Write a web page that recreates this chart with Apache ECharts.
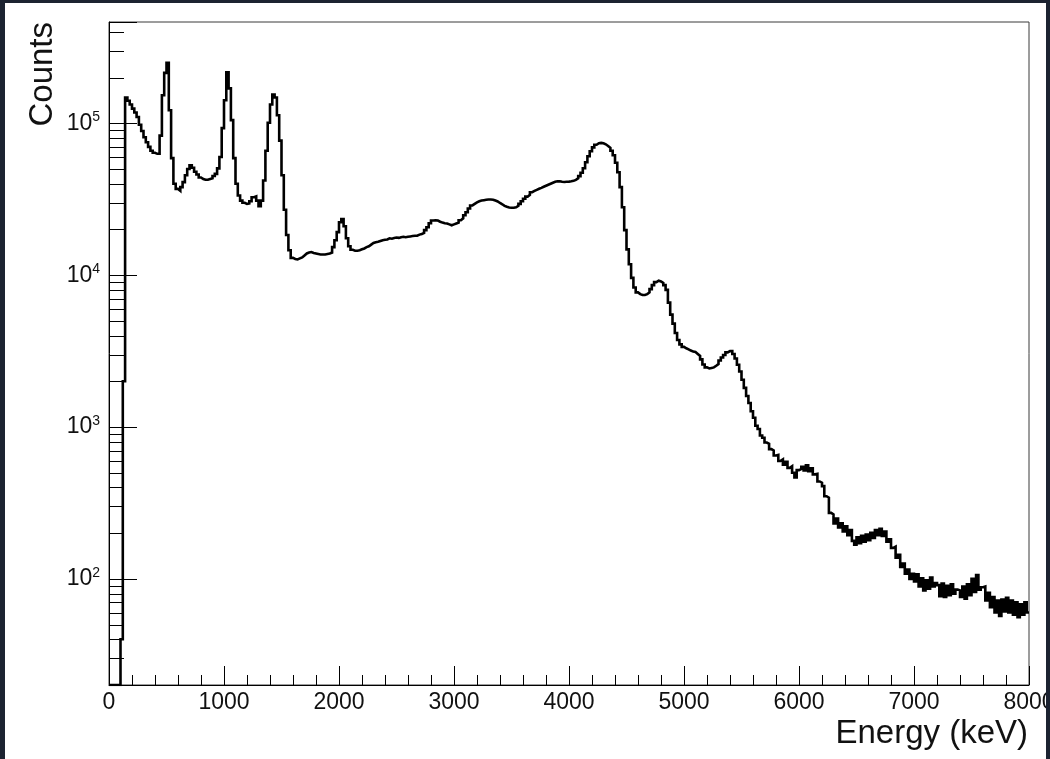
<!DOCTYPE html>
<html>
<head>
<meta charset="utf-8">
<script src="https://cdn.jsdelivr.net/npm/echarts@6/dist/echarts.min.js"></script>
<style>
  html, body { margin: 0; padding: 0; width: 1050px; height: 759px; overflow: hidden; background: #1c2331; }
  #pad { position: absolute; left: 5px; top: 3px; width: 1041px; height: 756px; background: #ffffff; overflow: hidden; }
  #chart { width: 1041px; height: 756px; }
</style>
</head>
<body>
<div id="pad"><div id="chart"></div></div>
<script>
// Gamma-ray energy spectrum, 20 keV bins from 0 to 8000 keV.
const BIN_WIDTH = 20;
const E_MIN = 0;
const E_MAX = 8000;
const E_TICK_STEP = 1000;

// counts per bin (bin i covers [i*20, i*20+20) keV)
const counts = [
  0, 0, 0, 0, 0, 40, 2000, 148000, 141000, 133000,
  125000, 118000, 110000, 98000, 89000, 81000, 75000, 70000, 66000, 64000,
  63000, 63000, 83000, 153000, 215000, 250000, 122000, 59000, 40000, 37000,
  36000, 38000, 41000, 45500, 50000, 53000, 51000, 48000, 46000, 44000,
  43000, 42500, 42500, 43000, 43500, 45000, 46500, 50500, 60000, 93000,
  142000, 217000, 170000, 105000, 59000, 40000, 33500, 31000, 30000, 29500,
  29700, 30700, 32600, 33000, 31000, 28500, 31000, 42000, 66000, 101000,
  133000, 155000, 148000, 113000, 77000, 45500, 27000, 18400, 14600, 13000,
  12800, 12700, 12900, 13100, 13500, 13900, 14100, 14200, 14000, 13900,
  13800, 13700, 13700, 13700, 13800, 13900, 14100, 15300, 17000, 19200,
  22300, 23400, 21000, 17500, 15500, 14700, 14500, 14500, 14600, 14800,
  15000, 15300, 15500, 15900, 16300, 16500, 16600, 16800, 17000, 17100,
  17200, 17500, 17400, 17600, 17700, 17600, 17800, 17900, 17800, 17900,
  18000, 18100, 18200, 18200, 18500, 18700, 19000, 19800, 20700, 22000,
  22900, 23000, 22900, 22500, 22200, 22000, 21900, 21600, 21300, 21600,
  21900, 22200, 23000, 23700, 24800, 26000, 27500, 28800, 29500, 30200,
  30700, 31000, 31200, 31400, 31500, 31500, 31400, 31000, 30600, 29900,
  29300, 28600, 28200, 27900, 27800, 27800, 28000, 28600, 29500, 30700,
  31900, 32900, 33800, 35200, 35900, 36500, 37100, 37600, 38200, 38800,
  39400, 40000, 40600, 41200, 41500, 41500, 41200, 41100, 41200, 41300,
  41500, 41800, 42400, 43400, 44900, 47300, 50600, 55400, 60700, 65500,
  69500, 72300, 74000, 74400, 74000, 72800, 71000, 69000, 66000, 61600,
  55000, 47600, 38000, 28000, 19800, 14800, 11800, 9600, 8300, 7700,
  7500, 7400, 7400, 7500, 7700, 8100, 8600, 9000, 9200, 9100,
  8900, 8600, 8000, 6600, 5500, 4800, 4160, 3740, 3500, 3370,
  3300, 3250, 3190, 3140, 3120, 3030, 2940, 2790, 2580, 2470,
  2430, 2450, 2470, 2530, 2600, 2740, 2870, 2980, 3100, 3160,
  3160, 3030, 2830, 2570, 2320, 2050, 1810, 1600, 1440, 1270,
  1150, 1020, 970, 880, 850, 790, 775, 715, 700, 650,
  655, 598, 612, 565, 590, 538, 552, 500, 465, 520,
  530, 548, 518, 560, 512, 534, 488, 492, 438, 430,
  408, 350, 342, 272, 266, 232, 250, 218, 232, 205,
  222, 194, 210, 178, 168, 188, 172, 192, 176, 196,
  180, 201, 186, 210, 194, 214, 192, 205, 176, 182,
  160, 163, 138, 144, 120, 126, 108, 115, 100, 108,
  96, 107, 89, 101, 84, 98, 86, 102, 89, 94,
  91, 77, 93, 76, 90, 78, 92, 80, 85, 84,
  76, 89, 74, 92, 78, 100, 82, 106, 85, 88,
  89, 72, 81, 65, 76, 60, 72, 57, 73, 61,
  75, 60, 72, 58, 70, 56, 68, 58, 70, 60
];

// log y range and the decades that carry a 10^n label
const Y_MIN = 20;
const Y_MAX = 465000;
const Y_LABEL_EXPONENTS = [2, 3, 4, 5];
// minor ticks at 2..9 x 10^n inside the range
const Y_MINOR_MULTIPLIERS = [2, 3, 4, 5, 6, 7, 8, 9];
const Y_MINOR_DECADES = [10, 100, 1000, 10000, 100000];

const FONT = '"Liberation Sans", Arial, Helvetica, sans-serif';
const INK = '#111111';

// Step outline: each bin drawn from its lower edge, closed at the upper edge.
// Empty bins sit on the frame floor, the way ROOT draws them on a log scale.
const histPoints = counts.map((c, i) => [E_MIN + i * BIN_WIDTH, c > 0 ? c : Y_MIN]);
histPoints.push([E_MIN + counts.length * BIN_WIDTH, counts[counts.length - 1]]);

const minorY = [];
Y_MINOR_DECADES.forEach(d => Y_MINOR_MULTIPLIERS.forEach(m => {
  const v = m * d;
  if (v >= Y_MIN && v <= Y_MAX) minorY.push([E_MIN, v]);
}));

const chart = echarts.init(document.getElementById('chart'), null, { renderer: 'canvas' });

chart.setOption({
  animation: false,
  backgroundColor: '#ffffff',
  grid: {
    left: 104, top: 19, right: 17, bottom: 74,
    show: true, borderColor: '#3a3a3a', borderWidth: 1,
    backgroundColor: 'transparent',
    outerBoundsMode: 'none'
  },
  xAxis: {
    type: 'value',
    min: E_MIN, max: E_MAX, interval: E_TICK_STEP,
    axisLine: { show: true, onZero: false, lineStyle: { color: '#000', width: 1 } },
    axisTick: { show: true, inside: true, length: 19, lineStyle: { color: '#000', width: 1 } },
    minorTick: { show: true, splitNumber: 5, length: 10, lineStyle: { color: '#000', width: 1 } },
    splitLine: { show: false },
    minorSplitLine: { show: false },
    axisLabel: {
      color: INK, fontSize: 23, fontFamily: FONT, margin: 6,
      showMinLabel: true, showMaxLabel: true, hideOverlap: false,
      formatter: v => String(v)
    }
  },
  yAxis: {
    type: 'log', logBase: 10,
    min: Y_MIN, max: Y_MAX,
    axisLine: { show: true, lineStyle: { color: '#000', width: 1 } },
    axisTick: { show: true, inside: true, length: 28, lineStyle: { color: '#000', width: 1 } },
    minorTick: { show: false },
    splitLine: { show: false },
    axisLabel: {
      margin: 9,
      formatter: v => {
        const e = Math.log10(v);
        const r = Math.round(e);
        return (Math.abs(e - r) < 1e-6 && Y_LABEL_EXPONENTS.includes(r)) ? '{b|10}{s|' + r + '}' : '';
      },
      rich: {
        b: { fontSize: 23, fontFamily: FONT, color: INK, lineHeight: 26 },
        s: { fontSize: 14, fontFamily: FONT, color: INK, lineHeight: 14, verticalAlign: 'top' }
      }
    }
  },
  graphic: [
    {
      type: 'text', x: 37.5, y: 19, rotation: Math.PI / 2,
      style: {
        text: 'Counts', font: '33px ' + FONT, fill: INK,
        align: 'right', verticalAlign: 'middle',
        textAlign: 'right', textVerticalAlign: 'middle'
      }
    },
    {
      type: 'text', x: 1023, y: 731,
      style: {
        text: 'Energy (keV)', font: '33px ' + FONT, fill: INK,
        align: 'right', verticalAlign: 'middle',
        textAlign: 'right', textVerticalAlign: 'middle'
      }
    }
  ],
  series: [
    {
      name: 'spectrum',
      type: 'line',
      step: 'end',
      data: histPoints,
      showSymbol: false,
      symbol: 'none',
      clip: true,
      silent: true,
      lineStyle: { color: '#000000', width: 2.6, join: 'miter' },
      z: 3
    },
    {
      name: 'y minor ticks',
      type: 'custom',
      silent: true,
      clip: false,
      data: minorY,
      renderItem: (params, api) => {
        const p = api.coord([api.value(0), api.value(1)]);
        const y = Math.round(p[1]) + 0.5;
        return {
          type: 'line',
          shape: { x1: p[0], y1: y, x2: p[0] + 15, y2: y },
          style: { stroke: '#000', lineWidth: 1 }
        };
      },
      z: 2
    }
  ]
});
</script>
</body>
</html>
